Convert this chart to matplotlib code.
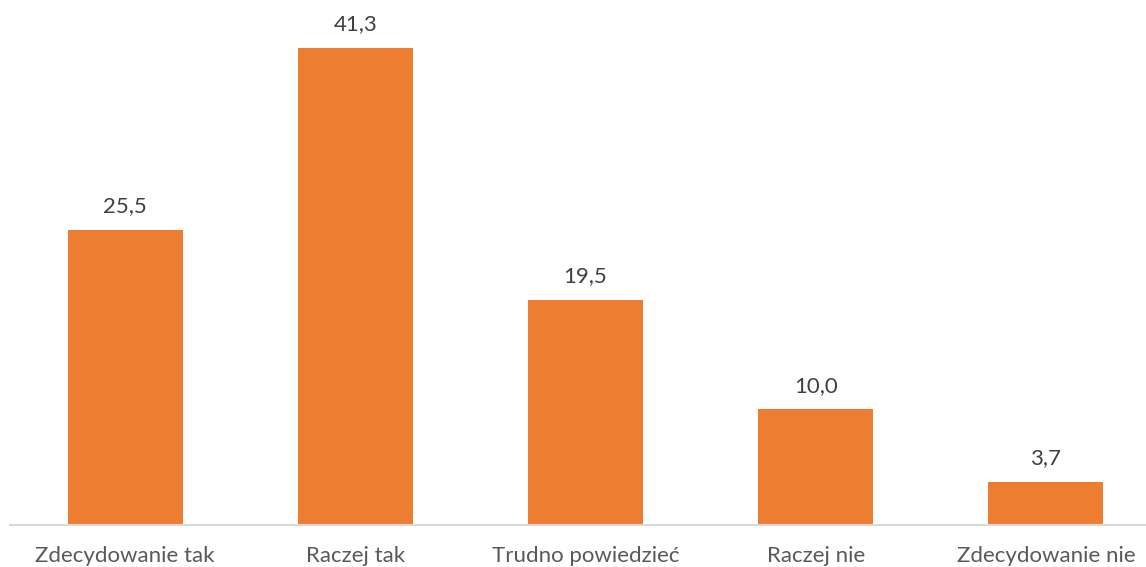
import matplotlib
matplotlib.use("Agg")
import matplotlib.pyplot as plt

categories = ["Zdecydowanie tak", "Raczej tak", "Trudno powiedzieć", "Raczej nie", "Zdecydowanie nie"]
values = [25.5, 41.3, 19.5, 10.0, 3.7]
value_labels = ["25,5", "41,3", "19,5", "10,0", "3,7"]

plt.rcParams['font.family'] = ['Lato', 'DejaVu Sans']

fig = plt.figure(figsize=(11.46, 5.67), dpi=100)
ax = fig.add_axes([10/1146, 42/567, 1136/1146, 525/567])

x = list(range(len(categories)))
bars = ax.bar(x, values, width=0.5, color="#ED7D31", zorder=2)
ax.set_xlim(-0.5, 4.435)
ax.set_ylim(0, 45.45)

for xi, v, lab in zip(x, values, value_labels):
    ax.annotate(lab, (xi, v), xytext=(0, 10), textcoords="offset points",
                ha="center", va="bottom", fontsize=16, color="#404040")

ax.set_xticks(x)
ax.set_xticklabels(categories, fontsize=16, color="#595959")
ax.tick_params(axis="x", length=0, pad=15)
ax.set_yticks([])
for s in ["top", "right", "left"]:
    ax.spines[s].set_visible(False)
ax.spines["bottom"].set_color("#D9D9D9")
ax.spines["bottom"].set_linewidth(1.5)

fig.savefig("out.png", dpi=100)
